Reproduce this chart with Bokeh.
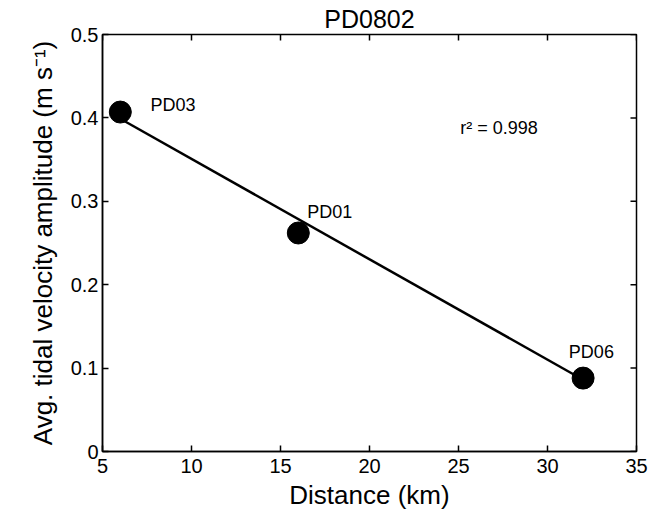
import math
from bokeh.plotting import figure
from bokeh.models import Range1d, FixedTicker, Label, ColumnDataSource
from bokeh.embed import file_html
from bokeh.resources import INLINE
from bokeh.core.properties import value

# Data
stations = ["PD03", "PD01", "PD06"]
distance_km = [6, 16, 32]
amplitude = [0.407, 0.262, 0.088]
fit_x = [6, 32]
fit_y = [0.399, 0.086]
label_x = [7.7, 16.5, 31.2]
label_y = [0.416, 0.287, 0.119]
x_ticks = [5, 10, 15, 20, 25, 30, 35]
y_ticks = [0, 0.1, 0.2, 0.3, 0.4, 0.5]
y_tick_labels = ["0", "0.1", "0.2", "0.3", "0.4", "0.5"]
r2_text = "r\u00b2 = 0.998"
x_min, x_max = 5, 35
y_min, y_max = 0, 0.5

FONT = "Liberation Sans"

p = figure(width=648, height=512, output_backend="svg", toolbar_location=None,
           x_range=Range1d(x_min, x_max), y_range=Range1d(y_min, y_max),
           min_border_left=102, min_border_right=12, min_border_top=34, min_border_bottom=58,
           title="PD0802")
p.title.align = "center"
p.title.text_font = FONT
p.title.text_font_size = "25px"
p.title.text_font_style = "normal"
p.title.text_color = "black"
p.title.standoff = 4
p.grid.visible = False
p.outline_line_color = "black"
p.outline_line_width = 1.5
p.background_fill_color = "white"
p.border_fill_color = "white"

for ax in (p.xaxis[0], p.yaxis[0]):
    ax.axis_line_color = "black"
    ax.axis_line_width = 1.5
    ax.major_tick_in = 6
    ax.major_tick_out = 0
    ax.major_tick_line_width = 1.5
    ax.major_tick_line_color = "black"
    ax.minor_tick_line_color = None
    ax.major_label_text_font = FONT
    ax.major_label_text_color = "black"
    ax.major_label_text_font_size = "20px"
    ax.axis_label_text_font = FONT
    ax.axis_label_text_font_style = "normal"
    ax.axis_label_text_color = "black"
    ax.axis_label_text_font_size = "26px"

xa = p.xaxis[0]
ya = p.yaxis[0]
xa.ticker = FixedTicker(ticks=x_ticks)
ya.ticker = FixedTicker(ticks=y_ticks)
ya.major_label_overrides = {t: s for t, s in zip(y_ticks, y_tick_labels)}
xa.axis_label = "Distance (km)"
ya.axis_label = "Avg. tidal velocity amplitude (m s\u207b\u00b9)"
xa.major_label_standoff = 7
ya.major_label_standoff = 4
xa.axis_label_standoff = 4
ya.axis_label_standoff = 10

# inward ticks on the top and right edges (half of each dash is clipped by the frame)
p.scatter(x_ticks, [y_max] * len(x_ticks), marker="dash", angle=math.pi / 2, size=12,
          line_color="black", line_width=1.5)
p.scatter([x_max] * len(y_ticks), y_ticks, marker="dash", size=12,
          line_color="black", line_width=1.5)

p.line(fit_x, fit_y, line_color="black", line_width=2.5)
p.scatter(distance_km, amplitude, size=22, fill_color="black", line_color="black", marker="circle")

src = ColumnDataSource(dict(x=label_x, y=label_y, t=stations))
p.text(x="x", y="y", text="t", source=src, text_font=value(FONT), text_font_size="18px",
       text_baseline="middle", text_align="left", text_color="black")

p.add_layout(Label(x=25.1, y=0.388, text=r2_text, text_font=FONT, text_font_size="18px",
                   text_baseline="middle", text_align="left", text_color="black"))

open("out.html", "w").write(file_html(p, INLINE))
